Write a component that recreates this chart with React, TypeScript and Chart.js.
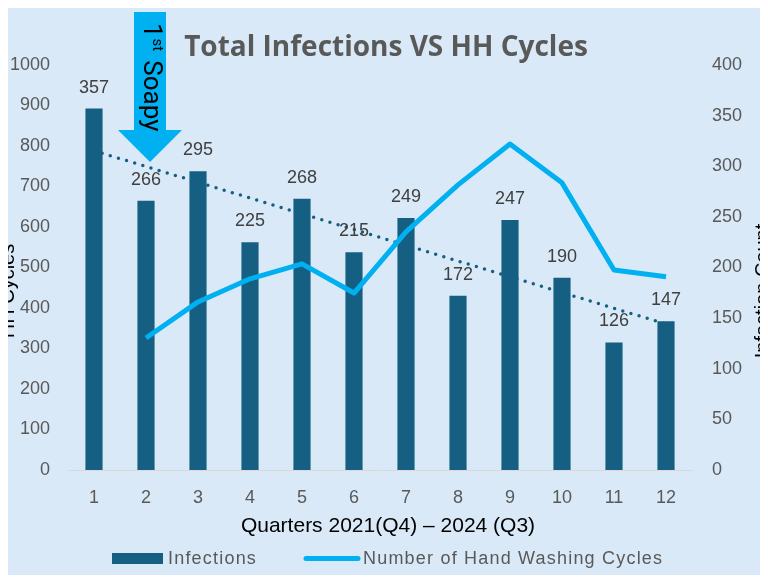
import React, { useEffect, useRef } from "react";
import { Chart, registerables } from "chart.js";

Chart.register(...registerables);

const quarters = ["1", "2", "3", "4", "5", "6", "7", "8", "9", "10", "11", "12"];
const infections = [357, 266, 295, 225, 268, 215, 249, 172, 247, 190, 126, 147];
const handWashingCycles = [null, 326, 415, 472, 509, 437, 588, 704, 805, 709, 494, 477];

const leftAxis = { min: 0, max: 1000, step: 100 };
const rightAxis = { min: 0, max: 400, step: 50 };

const chartTitle = "Total Infections VS HH Cycles";
const xTitle = "Quarters 2021(Q4) \u2013 2024 (Q3)";
const leftTitle = "HH Cycles";
const rightTitle = "Infection Count";
const legendInfections = "Infections";
const legendCycles = "Number of Hand Washing Cycles";

const BAR = "#156082";
const LINE = "#00B0F0";
const GRAY = "#595959";
const SANS = '"Liberation Sans", Arial, sans-serif';

function linearTrend(values: number[]): number[] {
  const n = values.length;
  const xs = values.map((_, i) => i + 1);
  const mx = xs.reduce((a, b) => a + b, 0) / n;
  const my = values.reduce((a, b) => a + b, 0) / n;
  let sxy = 0;
  let sxx = 0;
  xs.forEach((x, i) => {
    sxy += (x - mx) * (values[i] - my);
    sxx += (x - mx) * (x - mx);
  });
  const slope = sxy / sxx;
  return xs.map((x) => my + slope * (x - mx));
}

const overlayPlugin = {
  id: "overlay",
  afterDatasetsDraw(chart: any) {
    const ctx = chart.ctx as CanvasRenderingContext2D;
    const meta = chart.getDatasetMeta(0);
    ctx.save();
    ctx.font = `18px ${SANS}`;
    ctx.fillStyle = "#404040";
    ctx.textAlign = "center";
    ctx.textBaseline = "middle";
    meta.data.forEach((el: any, i: number) => {
      ctx.fillText(String(infections[i]), el.x, el.y - 21);
    });
    ctx.restore();
  },
  afterDraw(chart: any) {
    const ctx = chart.ctx as CanvasRenderingContext2D;
    const xs = chart.scales.x;
    ctx.save();

    // Title
    ctx.font = `bold 28px "Open Sans", Lato, sans-serif`;
    ctx.fillStyle = GRAY;
    ctx.textAlign = "center";
    ctx.textBaseline = "alphabetic";
    ctx.fillText(chartTitle, 402, 48);

    // X axis title
    ctx.font = `21px ${SANS}`;
    ctx.fillStyle = "#000000";
    ctx.fillText(xTitle, 404, 524);

    // Y axis titles (rotated)
    ctx.save();
    ctx.translate(30, 283);
    ctx.rotate(-Math.PI / 2);
    ctx.font = `20px ${SANS}`;
    ctx.textAlign = "center";
    ctx.fillText(leftTitle, 0, 0);
    ctx.restore();

    ctx.save();
    ctx.translate(785, 283);
    ctx.rotate(-Math.PI / 2);
    ctx.font = `20px ${SANS}`;
    ctx.textAlign = "center";
    ctx.fillText(rightTitle, 0, 0);
    ctx.restore();

    // Legend
    ctx.fillStyle = BAR;
    ctx.fillRect(128, 545, 51, 11);
    ctx.font = `18px ${SANS}`;
    (ctx as any).letterSpacing = "1.2px";
    ctx.fillStyle = GRAY;
    ctx.textAlign = "left";
    ctx.fillText(legendInfections, 184, 556);
    ctx.strokeStyle = LINE;
    ctx.lineWidth = 5;
    ctx.lineCap = "round";
    ctx.beginPath();
    ctx.moveTo(322, 550.5);
    ctx.lineTo(374, 550.5);
    ctx.stroke();
    ctx.fillText(legendCycles, 379, 556);
    (ctx as any).letterSpacing = "0px";

    // Arrow annotation pointing at quarter 2
    const cx = xs.getPixelForValue(1) + 4;
    ctx.fillStyle = LINE;
    ctx.beginPath();
    ctx.moveTo(cx - 16, 4);
    ctx.lineTo(cx + 16, 4);
    ctx.lineTo(cx + 16, 122);
    ctx.lineTo(cx + 32, 122);
    ctx.lineTo(cx, 154);
    ctx.lineTo(cx - 32, 122);
    ctx.lineTo(cx - 16, 122);
    ctx.closePath();
    ctx.fill();

    ctx.save();
    ctx.translate(cx - 6, 15);
    ctx.rotate(Math.PI / 2);
    ctx.fillStyle = "#000000";
    ctx.textAlign = "left";
    ctx.textBaseline = "alphabetic";
    ctx.font = `26px Roboto, sans-serif`;
    const w1 = ctx.measureText("1").width;
    ctx.fillText("1", 0, 0);
    ctx.font = `15px Roboto, sans-serif`;
    const w2 = ctx.measureText("st").width;
    ctx.fillText("st", w1 + 1, -9);
    ctx.font = `26px Roboto, sans-serif`;
    ctx.fillText("Soapy", w1 + w2 + 10, 0);
    ctx.restore();

    ctx.restore();
  },
};

export default function App() {
  const ref = useRef<HTMLCanvasElement | null>(null);

  useEffect(() => {
    if (!ref.current) return;
    const trend = linearTrend(infections);
    const tickFont = { size: 18, family: SANS };
    const plain = (v: any) => String(v);
    const chart = new Chart(ref.current, {
      type: "bar",
      data: {
        labels: quarters,
        datasets: [
          {
            type: "bar",
            label: legendInfections,
            data: infections,
            backgroundColor: BAR,
            yAxisID: "y1",
            barPercentage: 0.33,
            categoryPercentage: 1,
            order: 3,
          },
          {
            type: "line",
            label: "Trend",
            data: trend,
            borderColor: BAR,
            borderWidth: 3.5,
            borderDash: [0, 8.5],
            borderCapStyle: "round",
            pointRadius: 0,
            fill: false,
            tension: 0,
            yAxisID: "y1",
            order: 2,
          },
          {
            type: "line",
            label: legendCycles,
            data: handWashingCycles,
            borderColor: LINE,
            borderWidth: 5,
            borderJoinStyle: "round",
            pointRadius: 0,
            fill: false,
            tension: 0,
            yAxisID: "y",
            order: 1,
          },
        ] as any,
      },
      options: {
        animation: false,
        responsive: true,
        maintainAspectRatio: false,
        layout: { padding: { top: 57, left: 0, right: 0, bottom: 0 } },
        plugins: {
          legend: { display: false },
          title: { display: false },
          tooltip: { enabled: false },
        },
        scales: {
          x: {
            type: "category",
            offset: true,
            grid: { display: false, drawTicks: false },
            border: { display: true, color: "#D9D9D9", width: 1 },
            ticks: { color: GRAY, font: tickFont, padding: 17, maxRotation: 0, autoSkip: false },
            afterFit: (s: any) => {
              s.height = 105;
            },
          },
          y: {
            position: "left",
            min: leftAxis.min,
            max: leftAxis.max,
            grid: { display: false, drawTicks: false },
            border: { display: false },
            ticks: { stepSize: leftAxis.step, color: GRAY, font: tickFont, padding: 18, callback: plain },
            afterFit: (s: any) => {
              s.width = 84;
            },
          },
          y1: {
            position: "right",
            min: rightAxis.min,
            max: rightAxis.max,
            grid: { display: false, drawTicks: false },
            border: { display: false },
            ticks: { stepSize: rightAxis.step, color: GRAY, font: tickFont, padding: 20, callback: plain },
            afterFit: (s: any) => {
              s.width = 92;
            },
          },
        },
      } as any,
      plugins: [overlayPlugin],
    });
    return () => chart.destroy();
  }, []);

  return (
    <div
      style={{
        width: 768,
        height: 567,
        marginLeft: -8,
        overflow: "hidden",
        background: "#DAE9F7",
        position: "relative",
      }}
    >
      <div style={{ position: "absolute", left: -16, top: 0, width: 800, height: 567 }}>
        <canvas ref={ref} />
      </div>
    </div>
  );
}
